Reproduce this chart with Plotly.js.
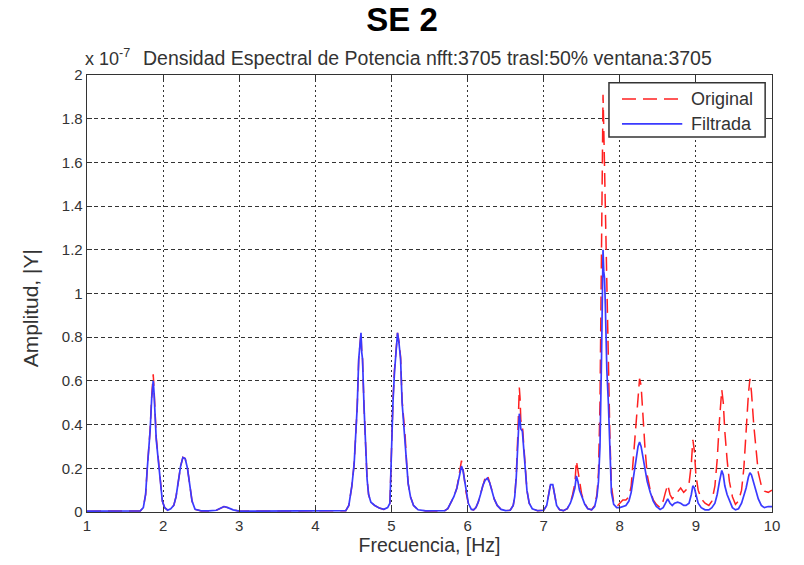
<!DOCTYPE html>
<html>
<head>
<meta charset="utf-8">
<script src="https://cdn.plot.ly/plotly-3.0.1.min.js"></script>
<style>
  html, body { margin: 0; padding: 0; background: #fff; }
  #chart { width: 804px; height: 565px; }
</style>
</head>
<body>
<div id="chart"></div>
<script>
// Power spectral density (units of 1e-7), frequency in Hz
const freq = [
  1.00, 1.20, 1.40, 1.60, 1.70, 1.74, 1.77, 1.79, 1.81, 1.83, 1.85, 1.87, 1.88, 1.89, 1.91, 1.93, 1.95, 1.97, 1.99,
  2.02, 2.06, 2.10, 2.14, 2.17, 2.20, 2.23, 2.26, 2.29, 2.32, 2.35, 2.38, 2.42, 2.50, 2.60, 2.70, 2.76, 2.80, 2.85, 2.92,
  3.00, 3.50, 4.00, 4.30, 4.40, 4.44, 4.48, 4.51, 4.53, 4.55, 4.57, 4.59, 4.60, 4.61, 4.62, 4.64, 4.66, 4.68, 4.70, 4.73,
  4.78, 4.84, 4.90, 4.95, 4.98, 5.00, 5.02, 5.04, 5.06, 5.08, 5.10, 5.12, 5.14, 5.16, 5.18, 5.20, 5.22, 5.25, 5.29, 5.35,
  5.45, 5.60, 5.70, 5.74, 5.78, 5.82, 5.86, 5.89, 5.92, 5.94, 5.96, 5.98, 6.01, 6.05, 6.08, 6.11, 6.14, 6.17, 6.20, 6.23,
  6.26, 6.29, 6.32, 6.35, 6.39, 6.44, 6.50, 6.56, 6.60, 6.62, 6.64, 6.66, 6.68, 6.69, 6.70, 6.72, 6.74, 6.76, 6.78, 6.81,
  6.85, 6.92, 7.00, 7.04, 7.07, 7.09, 7.12, 7.14, 7.17, 7.21, 7.26, 7.31, 7.35, 7.38, 7.41, 7.43, 7.45, 7.47, 7.50, 7.54,
  7.58, 7.63, 7.67, 7.70, 7.72, 7.74, 7.76, 7.77, 7.78, 7.79, 7.80, 7.81, 7.82, 7.83, 7.85, 7.87, 7.89, 7.92, 7.96, 8.00,
  8.04, 8.08, 8.12, 8.15, 8.18, 8.21, 8.24, 8.26, 8.28, 8.30, 8.33, 8.36, 8.40, 8.44, 8.48, 8.53, 8.57, 8.60, 8.63, 8.66,
  8.69, 8.72, 8.76, 8.80, 8.84, 8.87, 8.91, 8.94, 8.96, 8.98, 9.00, 9.03, 9.07, 9.12, 9.17, 9.21, 9.25, 9.28, 9.31, 9.34,
  9.36, 9.38, 9.41, 9.44, 9.48, 9.52, 9.56, 9.60, 9.63, 9.66, 9.69, 9.71, 9.73, 9.76, 9.79, 9.82, 9.86, 9.90, 9.95, 10.00
];

const original = [
  0.004, 0.004, 0.004, 0.004, 0.005, 0.02, 0.08, 0.19, 0.27, 0.38, 0.53, 0.63, 0.57, 0.47, 0.34, 0.27, 0.19, 0.11, 0.05,
  0.02, 0.008, 0.015, 0.03, 0.07, 0.14, 0.21, 0.25, 0.245, 0.20, 0.12, 0.05, 0.012, 0.005, 0.005, 0.008, 0.018, 0.025, 0.02, 0.01,
  0.004, 0.004, 0.004, 0.004, 0.006, 0.03, 0.12, 0.22, 0.35, 0.48, 0.70, 0.81, 0.82, 0.73, 0.70, 0.48, 0.30, 0.15, 0.08, 0.045,
  0.03, 0.018, 0.012, 0.02, 0.04, 0.31, 0.51, 0.65, 0.75, 0.82, 0.78, 0.71, 0.51, 0.43, 0.35, 0.22, 0.13, 0.07, 0.03, 0.01,
  0.005, 0.005, 0.006, 0.015, 0.04, 0.07, 0.11, 0.17, 0.235, 0.20, 0.15, 0.09, 0.04, 0.012, 0.01, 0.02, 0.045, 0.08, 0.125, 0.155,
  0.17, 0.14, 0.10, 0.06, 0.03, 0.012, 0.006, 0.008, 0.03, 0.07, 0.17, 0.35, 0.57, 0.52, 0.42, 0.40, 0.30, 0.17, 0.10, 0.04,
  0.015, 0.006, 0.008, 0.03, 0.10, 0.13, 0.125, 0.09, 0.03, 0.01, 0.006, 0.015, 0.04, 0.08, 0.13, 0.235, 0.19, 0.13, 0.08, 0.04,
  0.015, 0.01, 0.03, 0.08, 0.18, 0.50, 1.30, 1.70, 1.91, 1.75, 1.55, 1.30, 1.25, 1.00, 0.70, 0.35, 0.12, 0.045, 0.025, 0.04,
  0.055, 0.055, 0.07, 0.12, 0.25, 0.40, 0.55, 0.61, 0.58, 0.45, 0.30, 0.17, 0.10, 0.055, 0.035, 0.02, 0.05, 0.09, 0.125, 0.08,
  0.06, 0.075, 0.09, 0.11, 0.09, 0.10, 0.13, 0.22, 0.33, 0.28, 0.17, 0.10, 0.06, 0.04, 0.03, 0.05, 0.12, 0.24, 0.42, 0.56,
  0.50, 0.37, 0.24, 0.14, 0.07, 0.035, 0.05, 0.10, 0.20, 0.38, 0.54, 0.61, 0.55, 0.40, 0.28, 0.18, 0.12, 0.095, 0.09, 0.10
];

const filtrada = [
  0.004, 0.004, 0.004, 0.004, 0.005, 0.02, 0.08, 0.19, 0.27, 0.375, 0.52, 0.60, 0.55, 0.45, 0.33, 0.26, 0.19, 0.11, 0.05,
  0.02, 0.008, 0.015, 0.03, 0.07, 0.14, 0.21, 0.25, 0.245, 0.20, 0.12, 0.05, 0.012, 0.005, 0.005, 0.008, 0.018, 0.025, 0.02, 0.01,
  0.004, 0.004, 0.004, 0.004, 0.006, 0.03, 0.12, 0.22, 0.35, 0.48, 0.70, 0.81, 0.82, 0.73, 0.70, 0.48, 0.30, 0.15, 0.08, 0.045,
  0.03, 0.018, 0.012, 0.02, 0.04, 0.30, 0.50, 0.64, 0.74, 0.82, 0.77, 0.70, 0.50, 0.42, 0.34, 0.22, 0.13, 0.07, 0.03, 0.01,
  0.005, 0.005, 0.006, 0.015, 0.04, 0.07, 0.11, 0.16, 0.21, 0.19, 0.15, 0.09, 0.04, 0.012, 0.01, 0.02, 0.045, 0.08, 0.12, 0.145,
  0.155, 0.135, 0.10, 0.06, 0.03, 0.012, 0.006, 0.008, 0.03, 0.07, 0.16, 0.32, 0.45, 0.42, 0.38, 0.37, 0.28, 0.16, 0.10, 0.04,
  0.015, 0.006, 0.008, 0.03, 0.10, 0.125, 0.125, 0.09, 0.03, 0.01, 0.006, 0.015, 0.04, 0.07, 0.11, 0.165, 0.14, 0.10, 0.07, 0.035,
  0.015, 0.01, 0.025, 0.07, 0.14, 0.30, 0.70, 1.00, 1.20, 1.10, 1.07, 0.95, 0.80, 0.65, 0.50, 0.25, 0.09, 0.035, 0.02, 0.02,
  0.025, 0.03, 0.05, 0.09, 0.16, 0.24, 0.30, 0.32, 0.30, 0.26, 0.20, 0.14, 0.09, 0.05, 0.025, 0.012, 0.02, 0.04, 0.06, 0.04,
  0.03, 0.04, 0.045, 0.04, 0.03, 0.03, 0.04, 0.08, 0.12, 0.11, 0.08, 0.04, 0.02, 0.01, 0.01, 0.02, 0.04, 0.08, 0.14, 0.19,
  0.17, 0.12, 0.08, 0.05, 0.02, 0.01, 0.015, 0.04, 0.07, 0.11, 0.16, 0.18, 0.17, 0.13, 0.09, 0.06, 0.03, 0.02, 0.025, 0.025
];

const xTicks = [1, 2, 3, 4, 5, 6, 7, 8, 9, 10];
const yTicks = [0, 0.2, 0.4, 0.6, 0.8, 1, 1.2, 1.4, 1.6, 1.8, 2];
const yTickText = ['0', '0.2', '0.4', '0.6', '0.8', '1', '1.2', '1.4', '1.6', '1.8', '2'];
const seriesNames = ['Original', 'Filtrada'];

const FONT = 'Liberation Sans, Arial, sans-serif';
const INK = '#333';
const RED = '#ff2020';
const BLUE = '#3a3aff';
const RED_DASH = '14px,7px';

const traces = [
  {
    x: freq, y: original, name: seriesNames[0], type: 'scatter', mode: 'lines',
    line: { color: RED, width: 1.5, dash: RED_DASH }
  },
  {
    x: freq, y: filtrada, name: seriesNames[1], type: 'scatter', mode: 'lines',
    line: { color: BLUE, width: 1.7 }
  }
];

const axisCommon = {
  showline: true, linecolor: INK, linewidth: 1.3, mirror: 'ticks',
  ticks: 'inside', ticklen: 5, tickcolor: INK, tickwidth: 1,
  showgrid: true, gridcolor: '#333', gridwidth: 1,
  zeroline: false, tickfont: { family: FONT, size: 15, color: INK }
};

// Boxed legend in the upper-right corner of the axes (paper coordinates)
const legendBox = { x0: 0.762, x1: 0.990, y0: 0.858, y1: 0.982 };
const legendRows = [0.945, 0.888];
const legendLine = { x0: 0.781, x1: 0.869 };
const legendTextX = 0.879;

const legendShapes = [
  {
    type: 'rect', xref: 'paper', yref: 'paper', layer: 'above',
    x0: legendBox.x0, x1: legendBox.x1, y0: legendBox.y0, y1: legendBox.y1,
    fillcolor: '#fff', line: { color: INK, width: 1.5 }
  },
  {
    type: 'line', xref: 'paper', yref: 'paper', layer: 'above',
    x0: legendLine.x0, x1: legendLine.x1, y0: legendRows[0], y1: legendRows[0],
    line: { color: RED, width: 1.5, dash: RED_DASH }
  },
  {
    type: 'line', xref: 'paper', yref: 'paper', layer: 'above',
    x0: legendLine.x0, x1: legendLine.x1, y0: legendRows[1], y1: legendRows[1],
    line: { color: BLUE, width: 1.7 }
  }
];

const legendLabels = seriesNames.map((name, i) => ({
  text: name, xref: 'paper', yref: 'paper', x: legendTextX, y: legendRows[i],
  xanchor: 'left', yanchor: 'middle', showarrow: false,
  font: { family: FONT, size: 18, color: INK }
}));

const layout = {
  width: 804, height: 565,
  margin: { l: 87, r: 32, t: 75, b: 53 },
  paper_bgcolor: '#fff', plot_bgcolor: '#fff',
  font: { family: FONT, color: INK },
  showlegend: false,
  title: {
    text: '<b>SE 2</b>', xref: 'container', yref: 'container', x: 0.5, y: 0.965,
    xanchor: 'center', yanchor: 'middle',
    font: { family: FONT, size: 33, color: '#000' }
  },
  xaxis: Object.assign({}, axisCommon, {
    range: [1, 10], tickvals: xTicks, ticktext: xTicks.map(String),
    griddash: '2px,3px',
    title: { text: 'Frecuencia, [Hz]', font: { family: FONT, size: 19.5, color: INK }, standoff: 5 }
  }),
  yaxis: Object.assign({}, axisCommon, {
    range: [0, 2], tickvals: yTicks, ticktext: yTickText,
    griddash: '4px,3px'
  }),
  shapes: legendShapes,
  annotations: [
    {
      text: 'Densidad Espectral de Potencia nfft:3705 trasl:50% ventana:3705',
      xref: 'paper', yref: 'paper', x: 0.5, y: 1, yshift: 17, xshift: -2,
      xanchor: 'center', yanchor: 'middle', showarrow: false,
      font: { family: FONT, size: 19.5, color: INK }
    },
    {
      text: 'x 10<sup>-7</sup>', xref: 'paper', yref: 'paper', x: 0, y: 1, yshift: 18, xshift: -4,
      xanchor: 'left', yanchor: 'middle', showarrow: false,
      font: { family: FONT, size: 18, color: INK }
    },
    {
      text: 'Amplitud, |Y|', xref: 'paper', yref: 'paper', x: 0, y: 0.466, xshift: -57,
      xanchor: 'center', yanchor: 'middle', textangle: -90, showarrow: false,
      font: { family: FONT, size: 21, color: INK }
    }
  ].concat(legendLabels)
};

Plotly.newPlot('chart', traces, layout, { displayModeBar: false, staticPlot: true });
</script>
</body>
</html>
